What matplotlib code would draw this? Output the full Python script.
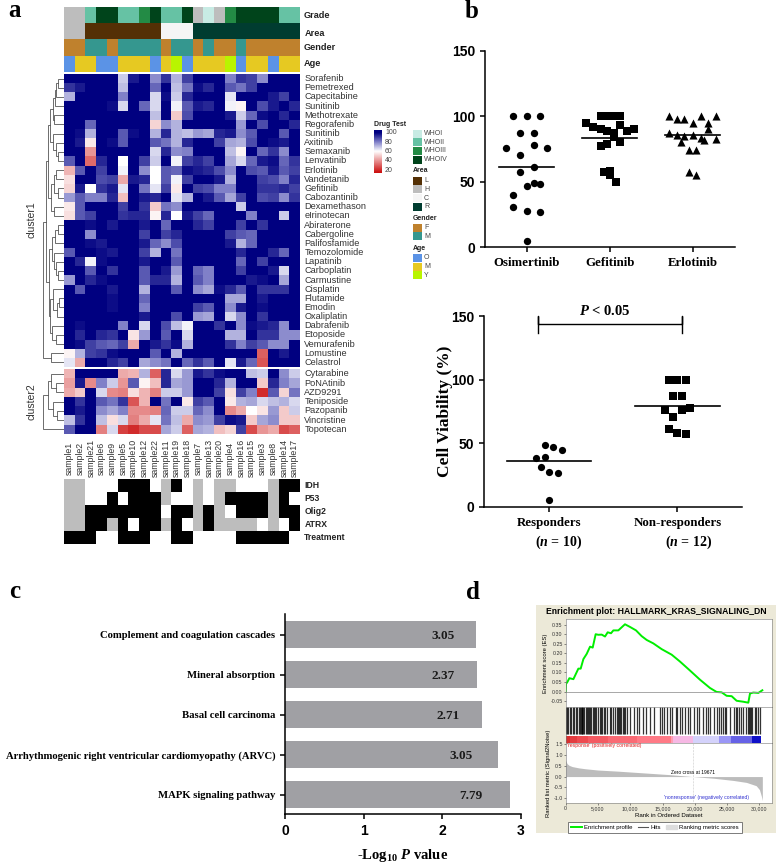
import numpy as np
import matplotlib
matplotlib.use("Agg")
import matplotlib.pyplot as plt
from matplotlib.colors import LinearSegmentedColormap, ListedColormap
from matplotlib.lines import Line2D
from matplotlib.patches import Patch, Rectangle

plt.rcParams['font.family'] = ['Liberation Sans', 'DejaVu Sans']
plt.rcParams['mathtext.fontset'] = 'custom'
plt.rcParams['mathtext.rm'] = 'Liberation Serif:bold'
plt.rcParams['mathtext.it'] = 'Liberation Serif:italic:bold'
plt.rcParams['mathtext.bf'] = 'Liberation Serif:bold'

W, H = 778, 864
SERIF = 'Liberation Serif'

# ---------- panel a data ----------
samples = ['sample1', 'sample2', 'sample21', 'sample6', 'sample9', 'sample5', 'sample10', 'sample12',
           'sample22', 'sample11', 'sample19', 'sample18', 'sample7', 'sample13', 'sample20', 'sample4',
           'sample16', 'sample15', 'sample3', 'sample8', 'sample14', 'sample17']
drugs1 = ['Sorafenib', 'Pemetrexed', 'Capecitabine', 'Sunitinib', 'Methotrexate', 'Regorafenib', 'Sunitinib',
          'Axitinib', 'Semaxanib', 'Lenvatinib', 'Erlotinib', 'Vandetanib', 'Gefitinib', 'Cabozantinib',
          'Dexamethason', 'eIrinotecan', 'Abiraterone', 'Cabergoline', 'Palifosfamide', 'Temozolomide',
          'Lapatinib', 'Carboplatin', 'Carmustine', 'Cisplatin', 'Flutamide', 'Emodin', 'Oxaliplatin',
          'Dabrafenib', 'Etoposide', 'Vemurafenib', 'Lomustine', 'Celastrol']
drugs2 = ['Cytarabine', 'PoNAtinib', 'AZD9291', 'Teniposide', 'Pazopanib', 'Vincristine', 'Topotecan']

cluster1 = [
    [100,100,100,100,100,68,96,100,78,92,72,90,100,100,100,80,92,90,78,100,100,100],
    [92,96,100,100,100,70,100,100,84,100,70,82,98,94,100,86,82,90,100,100,100,100],
    [72,100,100,100,100,80,100,100,66,98,68,94,100,100,100,64,100,100,100,96,90,100],
    [100,100,100,100,98,66,100,84,66,100,62,86,96,94,100,62,58,100,88,96,100,94],
    [100,100,100,100,100,100,100,100,70,100,50,88,100,100,100,96,68,84,98,100,94,100],
    [100,100,84,100,100,100,100,100,52,78,72,100,100,100,100,100,76,100,88,100,100,94],
    [100,98,72,100,100,86,98,100,72,94,72,70,76,74,94,96,78,86,100,100,86,100],
    [100,96,56,100,98,86,100,100,86,82,72,94,100,100,90,74,72,88,100,98,96,100],
    [100,100,40,100,100,100,100,100,66,94,78,80,100,100,100,70,58,100,84,92,78,100],
    [86,100,32,94,100,60,100,90,68,100,62,90,94,90,100,74,66,84,96,98,84,92],
    [46,86,100,90,100,62,100,78,60,86,84,98,96,94,88,78,100,88,86,96,86,90],
    [54,100,100,88,90,44,96,94,60,86,62,90,100,100,96,72,100,100,90,88,80,94],
    [52,96,60,92,96,64,100,82,64,90,56,100,90,88,80,80,100,100,92,92,94,90],
    [76,86,80,80,94,48,100,96,94,100,64,72,100,96,86,74,90,100,88,90,78,92],
    [56,86,100,100,100,90,100,92,50,82,78,100,100,100,100,100,68,100,100,100,100,100],
    [54,86,90,100,100,92,94,94,58,94,60,96,90,84,100,100,100,80,100,100,68,100],
    [100,100,98,100,96,100,100,96,100,84,100,100,94,90,100,100,90,100,92,100,100,100],
    [100,100,78,100,100,100,100,90,100,90,94,100,100,100,100,90,86,84,100,100,100,100],
    [100,100,98,96,100,100,100,96,84,78,88,100,100,100,100,96,72,84,100,100,100,100],
    [86,100,100,98,96,100,100,90,72,100,82,100,100,100,100,100,94,100,100,94,84,100],
    [100,94,62,98,100,100,100,96,100,100,86,100,100,100,100,100,84,100,90,100,100,100],
    [100,100,86,100,92,100,100,86,100,96,76,100,84,80,100,100,90,100,100,96,66,100],
    [76,100,94,98,100,100,100,86,94,94,72,100,86,80,100,100,100,96,98,100,74,100],
    [100,86,100,100,96,100,100,72,100,100,86,100,78,74,98,94,86,100,92,92,92,100],
    [100,100,100,100,98,100,100,84,100,100,100,100,100,100,100,74,74,100,96,100,100,100],
    [100,100,100,100,98,100,100,80,100,100,100,100,90,86,100,78,96,100,98,100,100,100],
    [100,100,100,100,100,100,100,96,100,100,88,100,76,74,100,66,78,100,92,100,100,100],
    [100,98,100,100,100,80,100,66,100,88,70,62,100,100,92,100,78,98,96,94,78,100],
    [100,94,100,94,92,100,55,76,100,86,100,66,100,100,100,72,72,100,92,92,78,78],
    [100,98,90,86,84,90,44,100,96,92,98,72,100,100,100,92,80,90,86,78,78,100],
    [58,72,90,92,98,100,100,100,86,100,72,100,100,100,100,100,100,100,30,100,96,100],
    [64,44,100,100,94,90,100,74,78,82,100,84,92,86,100,64,96,84,28,100,100,100],
]
cluster2 = [
    [46,100,100,100,100,44,46,72,30,94,66,76,96,92,98,100,100,70,68,100,78,68],
    [42,96,38,80,68,40,86,58,48,94,74,76,100,100,94,72,100,100,50,94,80,74],
    [44,50,100,66,38,36,54,46,36,68,68,76,100,100,90,54,90,80,20,86,52,82],
    [100,92,100,86,82,92,28,46,100,82,100,56,90,86,100,56,72,74,66,70,72,66],
    [100,96,100,78,74,80,38,38,36,84,68,68,84,78,100,38,44,60,55,76,50,68],
    [70,92,100,70,54,66,36,44,64,82,70,44,78,76,90,98,96,50,74,78,50,50],
    [86,100,100,36,66,24,20,26,26,74,68,30,74,72,48,52,90,26,40,44,26,30],
]

# top annotation rows, NA is grey
grade = ['NA','NA','WHOII','WHOIV','WHOIV','WHOII','WHOII','WHOIII','WHOIV','WHOII','WHOII','WHOIV',
         'NA','WHOI','NA','WHOIII','WHOIV','WHOIV','WHOIV','WHOIV','WHOII','WHOII']
area = ['H','H','L','L','L','L','L','L','L','C','C','C','R','R','R','R','R','R','R','R','R','R']
gender = ['F','F','M','M','F','M','M','M','M','F','M','M','F','M','F','F','M','F','F','F','F','F']
age = ['O','M','M','O','O','M','M','M','O','M','Y','O','M','M','M','Y','O','M','M','O','M','M']

grade_colors = {'WHOI': '#c8ebe4', 'WHOII': '#66c2a4', 'WHOIII': '#238b45', 'WHOIV': '#00441b', 'NA': '#bdbdbd'}
area_colors = {'L': '#543005', 'H': '#bdbdbd', 'C': '#f5f5f5', 'R': '#003c30'}
gender_colors = {'F': '#bf812d', 'M': '#35978f'}
age_colors = {'O': '#5b93e6', 'M': '#e6c922', 'Y': '#b9f500'}

# mutation rows: 0 white, 1 black, 2 grey
mut_names = ['IDH', 'P53', 'Olig2', 'ATRX', 'Treatment']
mut_rows = [
    [2,2,0,0,0,1,1,1,0,2,1,0,2,0,2,2,0,0,0,2,1,1],
    [2,2,0,0,1,0,1,1,1,2,0,0,2,0,2,1,1,1,1,2,1,0],
    [2,2,1,1,1,1,1,1,1,0,1,1,2,1,2,0,1,1,1,2,1,1],
    [2,2,1,1,2,1,0,1,1,2,1,0,2,1,2,2,2,2,0,2,0,1],
    [1,1,1,0,0,1,1,1,0,0,1,1,0,0,0,0,1,1,1,1,1,0],
]

# dendrograms as (height, left, right), leaves are row numbers
tree1 = (21,
         (18,
          (16,
           (14, (11, (9, (8, (6, 0, 1), 2), 3), (10, 4, 5)), (11, 6, (8, 7, (6, 8, 9)))),
           (13, (10, (8, 10, 11), (6, 12, 13)), (10, 14, 15))),
          (15,
           (12, (9, (6, 16, 17), 18), (10, 19, (8, 20, (6, 21, 22)))),
           (14, (11, 23, (7, (5, 24, 25), 26)), (12, 27, (8, 28, 29))))),
         (13, 30, 31))
tree2 = (21,
         (16, (13, 0, (8, 1, 2)), (11, 3, (7, 4, 5))),
         6)

# ---------- panel b data ----------
osi_x = [-.165, 0, .165, -.083, .083, -.25, .083, .25, -.083, .083, -.083, 0, .083, .165, -.165, -.165, 0, .165, 0]
osi_y = [100, 100, 100, 87, 87, 76, 78, 76, 70.5, 61, 57.7, 47, 49, 48, 39.6, 31, 28, 27, 5]
gef_x = [-.11, -.03, .05, .13, -.28, -.2, -.11, -.03, .05, .13, .21, .29, .05, .13, -.03, -.11, -.07, .01, .01, .08]
gef_y = [100, 100, 100, 100, 95, 92, 90, 88.5, 87, 93, 89, 90, 84.5, 80, 79, 77, 57.5, 58.5, 55, 49.5]
erl_x = [-.285, -.19, -.1, 0, .1, .19, .285, .19, -.285, -.19, -.1, 0, .1, .14, .285, -.145, -.05, .045, -.05, .045]
erl_y = [100, 98, 98, 94.5, 100, 94.5, 100, 90, 87, 86, 85, 86, 83.5, 82, 83, 80, 74.5, 74, 57.5, 55]
drug_names = ['Osimertinib', 'Gefitinib', 'Erlotinib']
drug_medians = [61.5, 83.6, 85.7]

resp_x = [-.03, .035, .1, -.1, -.03, -.065, 0, .067, 0]
resp_y = [49, 47.5, 44.5, 38.5, 39.5, 31.4, 27.7, 27, 5.2]
nonresp_x = [-.067, 0, .065, -.033, .034, -.1, .034, .1, -.033, -.067, 0, .065]
nonresp_y = [100, 100, 100, 87, 87, 76, 76, 78, 71, 61.5, 58, 57.6]
group_medians = [36, 79.3]

# ---------- panel c data ----------
pathways = ['Complement and coagulation cascades', 'Mineral absorption', 'Basal cell carcinoma',
            'Arrhythmogenic right ventricular cardiomyopathy (ARVC)', 'MAPK signaling pathway']
log_p = [2.43, 2.44, 2.51, 2.71, 2.87]
bar_text = ['3.05', '2.37', '2.71', '3.05', '7.79']

# ---------- panel d data ----------
es_rank = [0, 50, 260, 570, 1190, 1960, 2320, 2740, 3250, 3770, 4180, 4640, 5060, 5570, 6090, 6500, 7020, 7380,
           8150, 9180, 9960, 10890, 11760, 12540, 13570, 14860, 16410, 17700, 19250, 20800, 22340, 23370, 24150,
           24920, 25700, 26470, 27500, 28280, 28540, 29050, 29830, 30450]
es_val = [0, .04, .05, .07, .065, .12, .12, .17, .197, .235, .23, .30, .297, .298, .288, .31, .305, .32,
          .32, .352, .338, .32, .29, .27, .252, .222, .193, .157, .11, .062, .019, -.002, -.004,
          -.022, -.024, -.048, -.053, -.058, -.01, -.005, -.007, .007]
hit_ranks = [100, 250, 400, 600, 850, 1100, 1300, 1550, 1750, 2000, 2200, 2350, 2450, 2550, 2700, 2850, 3100, 3250,
             3400, 3600, 3750, 3900, 4250, 4350, 4500, 4700, 5000, 5300, 5450, 5600, 5900, 6100, 6350, 6800, 7000,
             7400, 7700, 8000, 8150, 8300, 8450, 8600, 8800, 9050, 9250, 9500, 9900, 10600, 11100, 11350, 11900,
             12500, 13100, 13700, 14600, 14900, 15200, 15700, 16100, 16500, 17100, 17300, 17700, 18000, 18500,
             19000, 19300, 19900, 20300, 20700, 21200, 21800, 22000, 22300, 22900, 23400, 23700, 24100, 24400,
             24700, 24850, 25400, 26000, 26300, 26500, 26900, 27100, 27500, 27900, 28200, 28350, 28500, 28700,
             28900, 29300, 29500, 29800, 30100]
band_edges = [0, 600, 1800, 3500, 6500, 11000, 16300, 16600, 19700, 23800, 25600, 28800, 30300]
band_colors = ['#d83030', '#e43c40', '#ee4a50', '#f45a62', '#fa6a74', '#ff7a86', '#ff9fb5', '#f6b8e4', '#d4d2fb',
               '#9a96f6', '#6662e6', '#1010c8']
metric_rank = [0, 200, 500, 1000, 2000, 3000, 5000, 8000, 12000, 16000, 19671, 23000, 26000, 28000, 29500, 30000,
               30300, 30450]
metric_val = [.75, .6, .52, .46, .40, .36, .30, .25, .17, .09, 0, -.08, -.18, -.27, -.42, -.6, -.9, -1.1]


fig = plt.figure(figsize=(W / 100, H / 100), dpi=100)


def px_ax(x0, y0, x1, y1, **kw):
    # axes from pixel box of the picture, y going down
    return fig.add_axes([x0 / W, 1 - y1 / H, (x1 - x0) / W, (y1 - y0) / H], **kw)


# overlay for loose text and the legend swatches, in pixels
over = fig.add_axes([0, 0, 1, 1], zorder=10)
over.set_xlim(0, W)
over.set_ylim(H, 0)
over.axis('off')
over.patch.set_alpha(0)

for s, x, y in [('a', 15, 17), ('b', 472, 18), ('c', 15, 598), ('d', 473, 599)]:
    over.text(x, y, s, family=SERIF, weight='bold', fontsize=18, ha='center', va='baseline')

# ---------- panel a ----------
heat_cmap = LinearSegmentedColormap.from_list(
    'drug', [(0, '#cc1111'), (45 / 85, '#ffffff'), (65 / 85, '#8080c8'), (1, '#000080')])
HX0, HX1 = 64, 300

ax = px_ax(HX0, 7.3, HX1, 71.7)
rows = [grade, area, gender, age]
maps = [grade_colors, area_colors, gender_colors, age_colors]
all_cols = []
codes = []
for r, m in zip(rows, maps):
    line = []
    for v in r:
        if m[v] not in all_cols:
            all_cols.append(m[v])
        line.append(all_cols.index(m[v]))
    codes.append(line)
ax.imshow(codes, cmap=ListedColormap(all_cols), vmin=0, vmax=len(all_cols) - 1, aspect='auto', interpolation='nearest')
ax.axis('off')
for s, x, y in [('Grade', 304, 16), ('Area', 305, 33), ('Gender', 304, 47), ('Age', 304, 64)]:
    over.text(x, y, s, weight='bold', fontsize=6.6, va='center', color='#222222')

ax = px_ax(HX0, 74, HX1, 367)
ax.imshow(cluster1, cmap=heat_cmap, vmin=15, vmax=100, aspect='auto', interpolation='nearest')
ax.axis('off')
for i, d in enumerate(drugs1):
    ax.text(21.9, i, d, fontsize=6.6, va='center', color='#333333')

ax = px_ax(HX0, 369.3, HX1, 434)
ax.imshow(cluster2, cmap=heat_cmap, vmin=15, vmax=100, aspect='auto', interpolation='nearest')
ax.axis('off')
for i, d in enumerate(drugs2):
    ax.text(21.9, i, d, fontsize=6.6, va='center', color='#333333')
for i, s in enumerate(samples):
    ax.text(i, 9.1, s, fontsize=6.3, rotation=90, ha='center', va='center', color='#333333')


def draw_tree(a, node):
    # recursive, returns the leaf position and the height of this node
    if not isinstance(node, tuple):
        return node + 0.5, 0
    h, left, right = node
    y1, h1 = draw_tree(a, left)
    y2, h2 = draw_tree(a, right)
    a.plot([h1, h, h, h2], [y1, y1, y2, y2], color='#555555', lw=0.6, solid_joinstyle='miter')
    return (y1 + y2) / 2, h


for tree, n, y0, y1 in [(tree1, 32, 74, 367), (tree2, 7, 369.3, 434)]:
    ax = px_ax(42.5, y0, 64, y1)
    draw_tree(ax, tree)
    ax.set_xlim(21.5, 0)
    ax.set_ylim(n, 0)
    ax.axis('off')
over.text(32, 220, 'cluster1', fontsize=7.5, rotation=90, ha='center', va='center', color='#333333')
over.text(32, 402, 'cluster2', fontsize=7.5, rotation=90, ha='center', va='center', color='#333333')

ax = px_ax(HX0, 479.3, HX1, 544)
ax.imshow(mut_rows, cmap=ListedColormap(['white', 'black', '#bdbdbd']), vmin=0, vmax=2, aspect='auto',
          interpolation='nearest')
ax.axis('off')
for i, s in enumerate(mut_names):
    ax.text(21.9, i, s, fontsize=6.2, weight='bold', va='center', color='#222222')

# colour legend
ax = px_ax(374, 130, 382, 173)
ax.imshow(np.linspace(105, 14, 60).reshape(-1, 1), cmap=heat_cmap, vmin=15, vmax=100, aspect='auto')
ax.axis('off')
over.text(374, 124, 'Drug Test', weight='bold', fontsize=5, va='center', color='#222222')
for v, y in zip([100, 80, 60, 40, 20], [132.7, 142, 151.3, 160.6, 170]):
    over.text(385, y, str(v), fontsize=5, va='center', color='#444444')

legend_groups = [
    (None, 124, ['WHOI', 'WHOII', 'WHOIII', 'WHOIV'], grade_colors),
    ('Area', 171, ['L', 'H', 'C', 'R'], area_colors),
    ('Gender', 218, ['F', 'M'], gender_colors),
    ('Age', 248.3, ['O', 'M', 'Y'], age_colors),
]
for title, y, names, cols in legend_groups:
    if title:
        over.text(413, y, title, weight='bold', fontsize=5, va='center', color='#222222')
    for k, nm in enumerate(names):
        yy = y + 9.6 + k * 8.7
        over.add_patch(Rectangle((413.3, yy - 4), 8.4, 8, color=cols[nm], lw=0))
        over.text(424, yy, nm, fontsize=5, va='center', color='#444444')


def dot_axes(a, ylabel_size=10):
    for s in ['top', 'right']:
        a.spines[s].set_visible(False)
    for s in ['left', 'bottom']:
        a.spines[s].set_linewidth(1.1)
    a.set_ylim(0, 150)
    a.set_yticks([0, 50, 100, 150])
    a.tick_params(width=1.1, length=3.6)
    for lab in a.get_yticklabels():
        lab.set_fontweight('bold')
        lab.set_fontsize(ylabel_size)
    a.patch.set_alpha(0)


# ---------- panel b top ----------
ax = px_ax(485, 50.7, 735, 247.3)
marks = [('o', osi_x, osi_y, 28), ('s', gef_x, gef_y, 28), ('^', erl_x, erl_y, 34)]
for i, (m, xs, ys, sz) in enumerate(marks):
    ax.scatter(np.array(xs) + i + 1, ys, marker=m, s=sz, color='black', linewidths=0, clip_on=False)
    ax.plot([i + 1 - .33, i + 1 + .33], [drug_medians[i]] * 2, color='black', lw=1.2)
ax.set_xlim(0.498, 3.51)
ax.set_xticks([1, 2, 3])
ax.set_xticklabels(drug_names, family=SERIF, weight='bold', fontsize=9.3)
dot_axes(ax)

# ---------- panel b bottom ----------
ax = px_ax(484.3, 316, 742, 507)
ax.scatter(np.array(resp_x) + 1, resp_y, marker='o', s=27, color='black', linewidths=0, clip_on=False)
ax.scatter(np.array(nonresp_x) + 2, nonresp_y, marker='s', s=27, color='black', linewidths=0, clip_on=False)
for i, m in enumerate(group_medians):
    ax.plot([i + 1 - .33, i + 1 + .33], [m, m], color='black', lw=1.2)
ax.set_xlim(0.497, 2.503)
ax.set_xticks([1, 2])
ax.set_xticklabels(['Responders', 'Non-responders'], family=SERIF, weight='bold', fontsize=9.3)
dot_axes(ax)
ax.set_ylabel('Cell Viability (%)', family=SERIF, weight='bold', fontsize=12.5, labelpad=-1)
ax.plot([0.917, 0.917, 0.917, 2.036, 2.036, 2.036], [137, 150, 143.7, 143.7, 150, 137], color='black', lw=1, clip_on=False)
over.text(605, 311, r'$\mathit{P}$ < 0.05', family=SERIF, weight='bold', fontsize=10.5, ha='center', va='center')
over.text(559, 542, r'($\mathit{n}$ = 10)', family=SERIF, weight='bold', fontsize=10, ha='center', va='center')
over.text(689, 542, r'($\mathit{n}$ = 12)', family=SERIF, weight='bold', fontsize=10, ha='center', va='center')

# ---------- panel c ----------
ax = px_ax(285.3, 614.3, 520.7, 814.3)
ypos = np.arange(len(pathways))
ax.barh(ypos, log_p, height=0.66, color='#a0a0a4')
for y, v, t in zip(ypos, log_p, bar_text):
    ax.text(v * 0.825, y + 0.03, t, family=SERIF, weight='bold', fontsize=9.5, ha='center', va='center', color='#1a1a1a')
ax.set_xlim(0, 3)
ax.set_ylim(4.49, -0.508)
ax.set_yticks(ypos)
ax.set_yticklabels(pathways, family=SERIF, weight='bold', fontsize=7.7)
ax.set_xticks([0, 1, 2, 3])
for lab in ax.get_xticklabels():
    lab.set_fontweight('bold')
    lab.set_fontsize(10)
for s in ['top', 'right']:
    ax.spines[s].set_visible(False)
for s in ['left', 'bottom']:
    ax.spines[s].set_linewidth(1.1)
ax.tick_params(width=1.1, length=3.6)
over.text(403, 855, r'-Log$_{10}$ $\mathit{P}$ value', family=SERIF, weight='bold', fontsize=10.5, ha='center', va='center')

# ---------- panel d, GSEA screenshot look ----------
over_bg = Rectangle((536 / W, 1 - 833 / H), 240 / W, 228 / H, transform=fig.transFigure, color='#ece9d8', lw=0, zorder=0)
fig.add_artist(over_bg)
over.text(656, 611, 'Enrichment plot: HALLMARK_KRAS_SIGNALING_DN', weight='bold', fontsize=6.2, ha='center', va='center')
RMAX = 31900
GS = '#777777'


def gsea_axes(a):
    a.set_xlim(0, RMAX)
    a.tick_params(labelsize=3.8, length=1.2, width=0.4, pad=1, colors='#333333')
    for s in a.spines.values():
        s.set_linewidth(0.4)
        s.set_color(GS)


ax = px_ax(565.7, 619.3, 771.7, 706.7)
gsea_axes(ax)
ax.plot(es_rank, es_val, color='#00ee00', lw=1.4)
ax.axhline(0, color='#999999', lw=0.6)
ax.set_ylim(-0.079, 0.378)
ax.set_yticks([-.05, 0, .05, .10, .15, .20, .25, .30, .35])
ax.set_yticklabels(['-0.05', '0.00', '0.05', '0.10', '0.15', '0.20', '0.25', '0.30', '0.35'])
ax.set_xticks([])
ax.set_ylabel('Enrichment score (ES)', fontsize=4.2, labelpad=1.5)

ax = px_ax(565.7, 706.7, 771.7, 743.3)
gsea_axes(ax)
ax.vlines(hit_ranks, 0.26, 1, color='black', lw=0.9, alpha=0.8)
for i, c in enumerate(band_colors):
    ax.axvspan(band_edges[i], band_edges[i + 1], ymin=0, ymax=0.2, color=c, lw=0)
ax.set_ylim(0, 1)
ax.set_xticks([])
ax.set_yticks([])

ax = px_ax(565.7, 743.3, 771.7, 803.3)
gsea_axes(ax)
ax.fill_between(metric_rank, metric_val, 0, color='#bcbcbc', lw=0)
ax.axvline(19671, color='#999999', lw=0.4, ls=':')
ax.set_ylim(-1.23, 1.53)
ax.set_yticks([-1, -.5, 0, .5, 1, 1.5])
ax.set_yticklabels(['-1.0', '-0.5', '0.0', '0.5', '1.0', '1.5'])
ax.set_xticks([0, 5000, 10000, 15000, 20000, 25000, 30000])
ax.set_xticklabels(['0', '5,000', '10,000', '15,000', '20,000', '25,000', '30,000'])
ax.set_xlabel('Rank in Ordered Dataset', fontsize=4.4, labelpad=1.5)
ax.set_ylabel('Ranked list metric (Signal2Noise)', fontsize=4.2, labelpad=1.5)
ax.text(200, 1.42, "'response' (positively correlated)", color='#e02020', fontsize=3.7, va='center')
ax.text(19760, 0.18, 'Zero cross at 19671', fontsize=3.5, ha='center', va='center')
ax.text(28400, -0.98, "'nonresponse' (negatively correlated)", color='#3030d0', fontsize=3.7, ha='right', va='center')

handles = [Line2D([], [], color='#00ee00', lw=1.4), Line2D([], [], color='#555555', lw=0.8), Patch(color='#dddddd')]
leg = fig.legend(handles, ['Enrichment profile', 'Hits', 'Ranking metric scores'], ncol=3, fontsize=4.3,
                 loc='center', bbox_to_anchor=(655 / W, 1 - 827.7 / H), fancybox=False, framealpha=1,
                 edgecolor='#666666', handlelength=1.8, columnspacing=0.8, handletextpad=0.4, borderpad=0.5)
leg.get_frame().set_linewidth(0.6)

fig.savefig('out.png', dpi=100)
